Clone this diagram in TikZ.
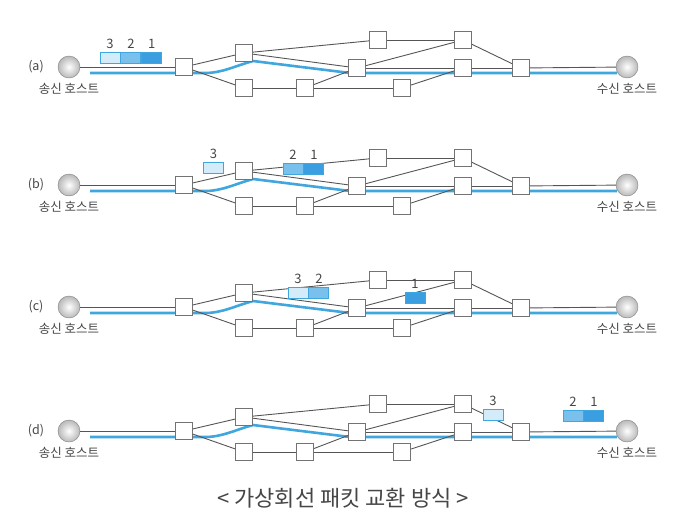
\documentclass[tikz,border=0pt]{standalone}
\usepackage{fontspec}
\setmainfont{Noto Sans CJK KR}
\usetikzlibrary{positioning,backgrounds}
\definecolor{vcblue}{RGB}{64,166,222}
\definecolor{pktlight}{RGB}{212,235,249}
\definecolor{pktmid}{RGB}{122,192,236}
\definecolor{pktdark}{RGB}{58,158,224}
\definecolor{linkgray}{RGB}{85,85,85}
\definecolor{boxgray}{RGB}{115,115,115}
\definecolor{txtgray}{RGB}{70,70,70}
\tikzset{
  router/.style={draw=boxgray, fill=white, line width=1pt, minimum size=17pt, inner sep=0pt},
  host/.style={circle, draw=gray, inner color=white, outer color=gray!55, minimum size=22pt, inner sep=0pt},
  link/.style={draw=linkgray, line width=0.9pt},
  vc/.style={draw=vcblue, line width=2.6pt},
  pkt/.style={draw=vcblue, line width=0.9pt, minimum width=20pt, minimum height=11pt, inner sep=0pt},
  digit/.style={text=txtgray, font=\fontsize{13}{14}\selectfont, inner sep=1pt, label distance=2pt},
  hostlbl/.style={text=txtgray, font=\fontsize{12.5}{13}\selectfont, inner sep=1pt},
  tag/.style={text=txtgray, font=\fontsize{12.5}{13}\selectfont, inner sep=0pt}
}

\begin{document}
\begin{tikzpicture}[x=1pt,y=-1pt]
  \useasboundingbox (0,0) rectangle (684,522);
  % the same network, four times
  \foreach \p/\oy in {a/0,b/118,c/240,d/364}{
    \begin{scope}[shift={(0,\oy)}]
      \node[tag] (\p-tag) at (36,67) {(\p)};
      \node[host, label={[hostlbl,label distance=4pt]below:송신 호스트}] (\p-src) at (69,67) {};
      \node[host, label={[hostlbl,label distance=4pt]below:수신 호스트}] (\p-dst) at (627,67) {};
      \foreach \n/\x/\y in {r1/184/67, r2/244/53, r3/244/88, r4/305/88, r5/357/68,
                            r6/378/40, r7/463/40, r8/463/68, r9/402/88, r10/521/68}
        \node[router] (\p-\n) at (\x,\y) {};
      \foreach \u/\v in {src/r1, r1/r2, r1/r3, r2/r6, r2/r5, r3/r4, r4/r5, r4/r9,
                         r6/r7, r5/r7, r5/r8, r9/r8, r7/r10, r8/r10, r10/dst}
        \draw[link] (\p-\u) -- (\p-\v);
      % virtual circuit
      \begin{scope}[on background layer]
        \draw[vc] ([xshift=21pt,yshift=-6pt]\p-src.center) -- ([xshift=21pt,yshift=-6pt]\p-r1.center)
          .. controls +(17,0) and +(-18,5) .. ([xshift=9pt,yshift=-8pt]\p-r2.center)
          -- ([xshift=-7pt,yshift=-5pt]\p-r5.center) -- ([xshift=-10pt,yshift=-6pt]\p-dst.center);
      \end{scope}
    \end{scope}
  }
  % packets
  \node[pkt, fill=pktlight, label={[digit]above:3}] (a-p3) at (110,57.5) {};
  \node[pkt, fill=pktmid, label={[digit]above:2}, right=0pt of a-p3] (a-p2) {};
  \node[pkt, fill=pktdark, label={[digit]above:1}, right=0pt of a-p2] (a-p1) {};

  \node[pkt, fill=pktlight, label={[digit]above:3}] (b-p3) at (213.5,168) {};
  \node[pkt, fill=pktmid, label={[digit]above:2}] (b-p2) at (293,168.5) {};
  \node[pkt, fill=pktdark, label={[digit]above:1}, right=0pt of b-p2] (b-p1) {};

  \node[pkt, fill=pktlight, label={[digit]above:3}] (c-p3) at (298,292.5) {};
  \node[pkt, fill=pktmid, label={[digit]above:2}, right=0pt of c-p3] (c-p2) {};
  \node[pkt, fill=pktdark, label={[digit]above:1}] (c-p1) at (415,297.5) {};

  \node[pkt, fill=pktlight, label={[digit]above:3}] (d-p3) at (493,414.5) {};
  \node[pkt, fill=pktmid, label={[digit]above:2}] (d-p2) at (573,416) {};
  \node[pkt, fill=pktdark, label={[digit]above:1}, right=0pt of d-p2] (d-p1) {};

  \node[text=txtgray, font=\fontsize{22}{24}\selectfont] (title) at (343,498) {< 가상회선 패킷 교환 방식 >};
\end{tikzpicture}
\end{document}
